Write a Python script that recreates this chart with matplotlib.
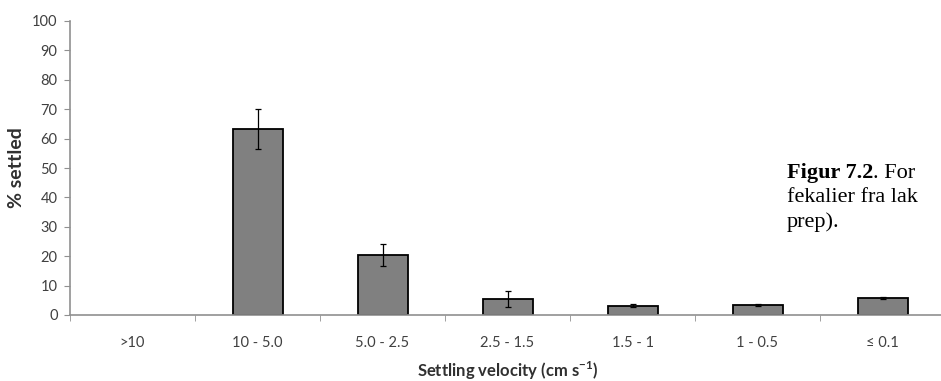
import matplotlib
matplotlib.use("Agg")
import matplotlib.pyplot as plt
import numpy as np

categories = [">10", "10 - 5.0", "5.0 - 2.5", "2.5 - 1.5", "1.5 - 1", "1 - 0.5", "\u2264 0.1"]
settled = [0.0, 63.3, 20.4, 5.3, 3.1, 3.4, 5.9]
errors = [0.0, 6.7, 3.9, 2.7, 0.5, 0.3, 0.3]
yticks = list(range(0, 101, 10))

fig = plt.figure(figsize=(9.41, 3.81), dpi=100)
ax = fig.add_axes([70/941, 1-315/381, 875/941, 294/381])

x = np.arange(len(categories))
lws = [1.3 if v > 0 else 0 for v in settled]
ax.bar(x, settled, width=0.4, color="#808080", edgecolor="black", linewidth=lws, zorder=2)
mask = np.array(errors) > 0
ax.errorbar(x[mask], np.array(settled)[mask], yerr=np.array(errors)[mask], fmt="none",
            ecolor="black", elinewidth=0.9, capsize=2, capthick=0.9, zorder=3)

ax.set_xlim(-0.5, len(categories)-0.5)
ax.set_ylim(0, 100)
ax.set_yticks(yticks)
ax.set_xticks(x)
ax.set_xticklabels(categories)
ax.set_xticks(np.arange(-0.5, len(categories)), minor=True)

for lab in ax.get_xticklabels() + ax.get_yticklabels():
    lab.set_fontfamily("Lato")
    lab.set_fontsize(10.5)
    lab.set_color("#404040")

for s in ["top", "right"]:
    ax.spines[s].set_visible(False)
for s in ["left", "bottom"]:
    ax.spines[s].set_color("#909090")
    ax.spines[s].set_linewidth(1.2)

ax.tick_params(axis="x", which="major", length=0, pad=15)
ax.tick_params(axis="x", which="minor", length=4, color="#909090", direction="out")
ax.tick_params(axis="y", length=4, color="#909090", direction="out", pad=5)

ax.set_ylabel("% settled", fontfamily="Lato", fontweight="bold", fontsize=14, color="#303030")
ax.yaxis.set_label_coords((25-70)/875, 0.5)
ax.set_xlabel("Settling velocity (cm s$^{\\mathregular{-1}}$)", fontfamily="Lato", fontweight="bold",
              fontsize=12, color="#303030")
ax.xaxis.set_label_coords(0.5, (315-360)/294)

cap_size = 16
t1 = fig.text(787/941, 1-178/381, "Figur 7.2", fontfamily="Liberation Serif", fontweight="bold",
              fontsize=cap_size, color="black", va="baseline")
fig.canvas.draw()
ax.annotate(". For", xy=(1, 0), xycoords=t1, xytext=(0, 0), textcoords="offset points",
            fontfamily="Liberation Serif", fontsize=cap_size, va="bottom", ha="left")
fig.text(787/941, 1-202/381, "fekalier fra lak", fontfamily="Liberation Serif", fontsize=cap_size, va="baseline")
fig.text(787/941, 1-227/381, "prep).", fontfamily="Liberation Serif", fontsize=cap_size, va="baseline")

fig.savefig("out.png", dpi=100)
